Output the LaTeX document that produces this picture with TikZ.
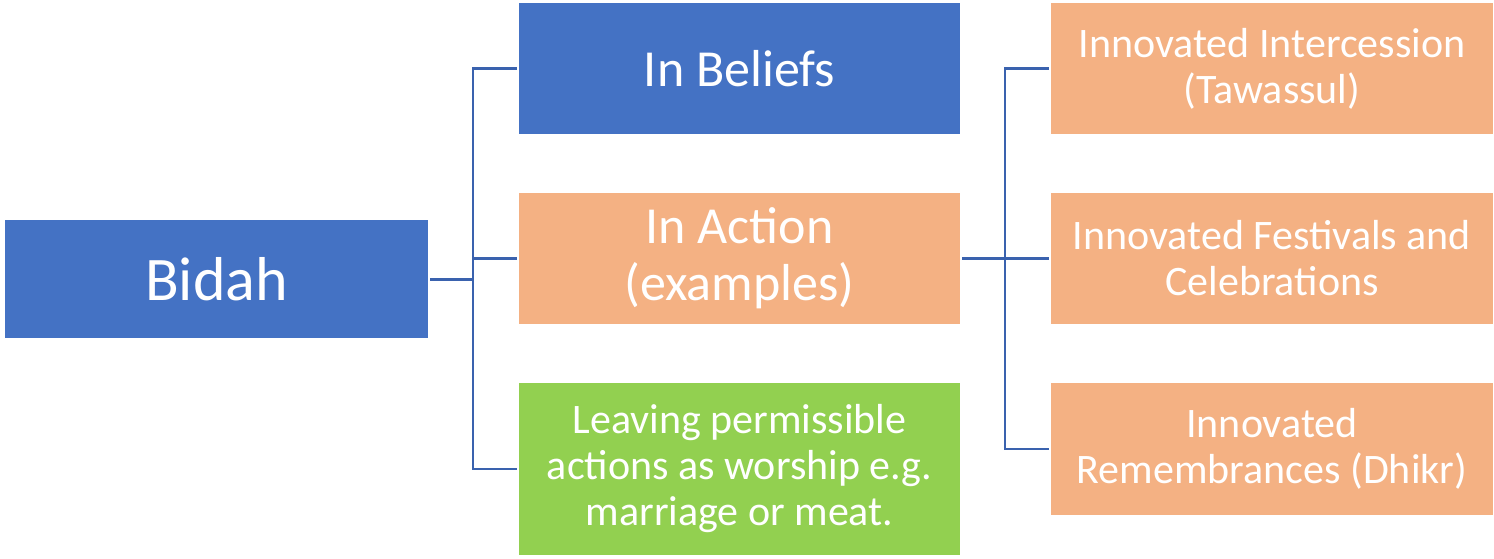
\documentclass[tikz,border=0pt]{standalone}
\usepackage{fontspec}
\setmainfont{Carlito}
\definecolor{cblue}{HTML}{4472C4}
\definecolor{corange}{HTML}{F4B183}
\definecolor{cgreen}{HTML}{92D050}
\definecolor{cline}{HTML}{3A62AE}
\begin{document}
\begin{tikzpicture}[x=1pt,y=-1pt,
  box/.style={rectangle,inner sep=0pt,text=white,align=center,draw=none},
  big/.style={font=\fontsize{62}{68}\selectfont},
  mid/.style={font=\fontsize{52}{57}\selectfont},
  small/.style={font=\fontsize{42}{46}\selectfont},
  conn/.style={cline,line width=2.2pt}]
\useasboundingbox (0,0) rectangle (1494,558);
\fill[white] (0,0) rectangle (1494,558);
\node[box,big,fill=cblue,minimum width=423pt,minimum height=118pt] (bidah) at (216.5,279) {Bidah};
\node[box,mid,fill=cblue,minimum width=441pt,minimum height=131pt] (beliefs) at (739.5,68.5) {In Beliefs};
\node[box,mid,fill=corange,minimum width=441pt,minimum height=131pt] (action) at (739.5,258.5) {In Action\\(examples)};
\node[box,small,fill=cgreen,minimum width=441pt,minimum height=172pt] (leaving) at (739.5,469) {Leaving permissible\\actions as worship e.g.\\marriage or meat.};
\node[box,small,fill=corange,minimum width=442pt,minimum height=131pt] (r1) at (1272,68.5) {Innovated Intercession\\(Tawassul)};
\node[box,small,fill=corange,minimum width=442pt,minimum height=131pt] (r2) at (1272,258.5) {Innovated Festivals and\\Celebrations};
\node[box,small,fill=corange,minimum width=442pt,minimum height=132pt] (r3) at (1272,449) {Innovated\\Remembrances (Dhikr)};
\coordinate (j1) at (473,279);
\coordinate (j2) at (1005,258.5);
\draw[conn,line width=3pt] ([xshift=2pt]bidah.east) -- (j1);
\draw[conn] ([xshift=-2pt]beliefs.west) -| (j1) |- ([xshift=-2pt]leaving.west);
\draw[conn] (j1 |- action.west) -- ([xshift=-2pt]action.west);
\draw[conn] ([xshift=2pt]action.east) -- (j2);
\draw[conn] ([xshift=-2pt]r1.west) -| (j2) |- ([xshift=-2pt]r3.west);
\draw[conn] (j2) -- ([xshift=-2pt]r2.west);
\end{tikzpicture}
\end{document}
